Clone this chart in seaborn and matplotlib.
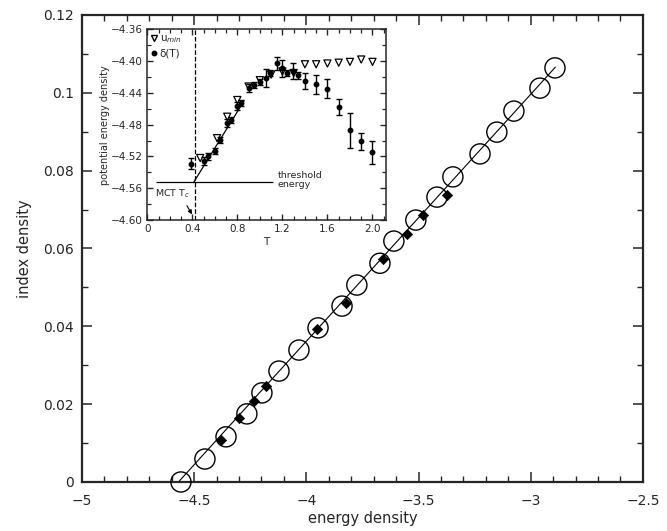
import numpy as np
import pandas as pd
import seaborn as sns
import matplotlib
matplotlib.use('Agg')
import matplotlib.pyplot as plt
from matplotlib.ticker import MultipleLocator, FuncFormatter
from matplotlib.lines import Line2D

# main panel: index density vs energy density
circle_x = [-4.559, -4.452, -4.358, -4.265, -4.198, -4.122, -4.033, -3.948, -3.841, -3.775,
            -3.672, -3.610, -3.512, -3.418, -3.347, -3.226, -3.151, -3.075, -2.959, -2.892]
circle_y = [0.0, 0.0059, 0.0116, 0.0175, 0.0229, 0.0285, 0.0339, 0.0396, 0.0452, 0.0506,
            0.0562, 0.0619, 0.0673, 0.0732, 0.0784, 0.0843, 0.0899, 0.0953, 0.1012, 0.1064]
diamond_x = [-4.381, -4.300, -4.233, -4.180, -3.953, -3.824, -3.659, -3.552, -3.480, -3.373]
diamond_y = [0.0108, 0.0164, 0.0208, 0.0247, 0.0393, 0.0460, 0.0573, 0.0637, 0.0686, 0.0737]
fit_x = [-4.57, -2.89]
fit_y = [0.0, 0.1066]

# inset: potential energy density vs T
umin_T = [0.47, 0.62, 0.71, 0.80, 0.90, 1.00, 1.10, 1.20, 1.30, 1.40, 1.50, 1.60, 1.70, 1.80, 1.90, 2.00]
umin_u = [-4.522, -4.497, -4.470, -4.449, -4.432, -4.424, -4.417, -4.413, -4.415, -4.404,
          -4.404, -4.403, -4.402, -4.401, -4.398, -4.401]
delta_T = [0.39, 0.50, 0.54, 0.60, 0.65, 0.71, 0.74, 0.80, 0.83, 0.90, 0.95, 1.00, 1.05,
           1.09, 1.15, 1.20, 1.24, 1.29, 1.34, 1.40, 1.50, 1.60, 1.70, 1.80, 1.90, 2.00]
delta_u = [-4.529, -4.526, -4.520, -4.513, -4.499, -4.478, -4.474, -4.457, -4.453, -4.434,
           -4.430, -4.426, -4.421, -4.415, -4.403, -4.409, -4.415, -4.412, -4.418, -4.425,
           -4.429, -4.435, -4.458, -4.487, -4.501, -4.515]
delta_err = [0.007, 0.005, 0.004, 0.004, 0.004, 0.005, 0.004, 0.005, 0.004, 0.005, 0.004,
             0.004, 0.011, 0.004, 0.008, 0.011, 0.004, 0.010, 0.004, 0.010, 0.012, 0.012,
             0.010, 0.022, 0.011, 0.014]
inset_fit_T = [0.41, 0.86]
inset_fit_u = [-4.553, -4.450]
threshold_u = -4.552
tc = 0.42

sns.set_style('ticks', {'xtick.direction': 'in', 'ytick.direction': 'in',
                        'xtick.top': True, 'ytick.right': True})
plt.rcParams['font.family'] = ['DejaVu Sans']

def minus_fmt(fmt):
    return FuncFormatter(lambda v, p: '0' if abs(v) < 1e-9 else (fmt % v).replace('-', '\u2212'))

fig = plt.figure(figsize=(6.67, 5.31), dpi=100)
ax = fig.add_axes([0.1229, 0.0923, 0.841, 0.8795])

sns.lineplot(x=fit_x, y=fit_y, ax=ax, color='black', lw=0.8)
sns.scatterplot(x=circle_x, y=circle_y, ax=ax, marker='o', s=210, facecolors='none',
                edgecolor='black', linewidth=1.0, clip_on=False, zorder=3)
sns.scatterplot(x=diamond_x, y=diamond_y, ax=ax, marker='D', s=28, color='black',
                edgecolor='black', zorder=4)

ax.set_xlim(-5, -2.5)
ax.set_ylim(0, 0.12)
ax.xaxis.set_major_locator(MultipleLocator(0.5))
ax.xaxis.set_minor_locator(MultipleLocator(0.1))
ax.yaxis.set_major_locator(MultipleLocator(0.02))
ax.yaxis.set_minor_locator(MultipleLocator(0.01))
ax.xaxis.set_major_formatter(minus_fmt('%g'))
ax.yaxis.set_major_formatter(minus_fmt('%g'))
ax.tick_params(which='major', length=7, width=1.1, labelsize=10, pad=6)
ax.tick_params(axis='x', which='major', pad=9)
ax.tick_params(which='minor', length=4, width=1.0)
for s in ax.spines.values():
    s.set_linewidth(1.6)
ax.set_xlabel('energy density', fontsize=10.5, labelpad=2)
ax.set_ylabel('index density', fontsize=10.5, labelpad=8)

# inset
axin = fig.add_axes([0.2208, 0.5857, 0.3579, 0.3591])
axin.errorbar(delta_T, delta_u, yerr=delta_err, fmt='o', ms=3.2, color='black',
              capsize=2.5, elinewidth=1.0, capthick=1.0, zorder=3)
sns.scatterplot(x=umin_T, y=umin_u, ax=axin, marker='v', s=26, facecolors='none',
                edgecolor='black', linewidth=0.9, zorder=4)
sns.lineplot(x=inset_fit_T, y=inset_fit_u, ax=axin, color='black', lw=0.9)
axin.hlines(threshold_u, 0.08, 1.12, color='black', lw=0.9)
axin.axvline(tc, ls='--', color='black', lw=0.9)
axin.text(1.16, threshold_u + 0.002, 'threshold\nenergy', fontsize=6.8, va='center',
          linespacing=1.0)
axin.text(0.07, -4.567, 'MCT T$_c$', fontsize=6.8, va='center')
axin.annotate('', xy=(0.41, -4.596), xytext=(0.34, -4.579),
              arrowprops=dict(arrowstyle='-|>', color='black', lw=0.8, mutation_scale=6))

h1 = Line2D([], [], marker='v', ls='none', mfc='none', mec='black', ms=5)
h2 = Line2D([], [], marker='o', ls='none', color='black', ms=3.2)
axin.legend([h1, h2], ['u$_{min}$', '\u03b4(T)'], loc='upper left', frameon=False,
            handlelength=0.5, handletextpad=0.3, fontsize=7.5, borderaxespad=0.2,
            labelspacing=0.3, borderpad=0.2)

axin.set_xlim(0, 2.12)
axin.set_ylim(-4.60, -4.36)
axin.xaxis.set_major_locator(MultipleLocator(0.4))
axin.xaxis.set_minor_locator(MultipleLocator(0.1))
axin.yaxis.set_major_locator(MultipleLocator(0.04))
axin.yaxis.set_minor_locator(MultipleLocator(0.02))
axin.xaxis.set_major_formatter(minus_fmt('%.1f'))
axin.yaxis.set_major_formatter(minus_fmt('%.2f'))
axin.tick_params(which='major', length=4, width=1.0, labelsize=7.5, pad=3)
axin.tick_params(which='minor', length=3, width=0.9)
for s in axin.spines.values():
    s.set_linewidth(1.1)
axin.set_xlabel('T', fontsize=7.5, labelpad=2)
axin.set_ylabel('potential energy density', fontsize=7, labelpad=1)

fig.savefig('out.png', dpi=100)
